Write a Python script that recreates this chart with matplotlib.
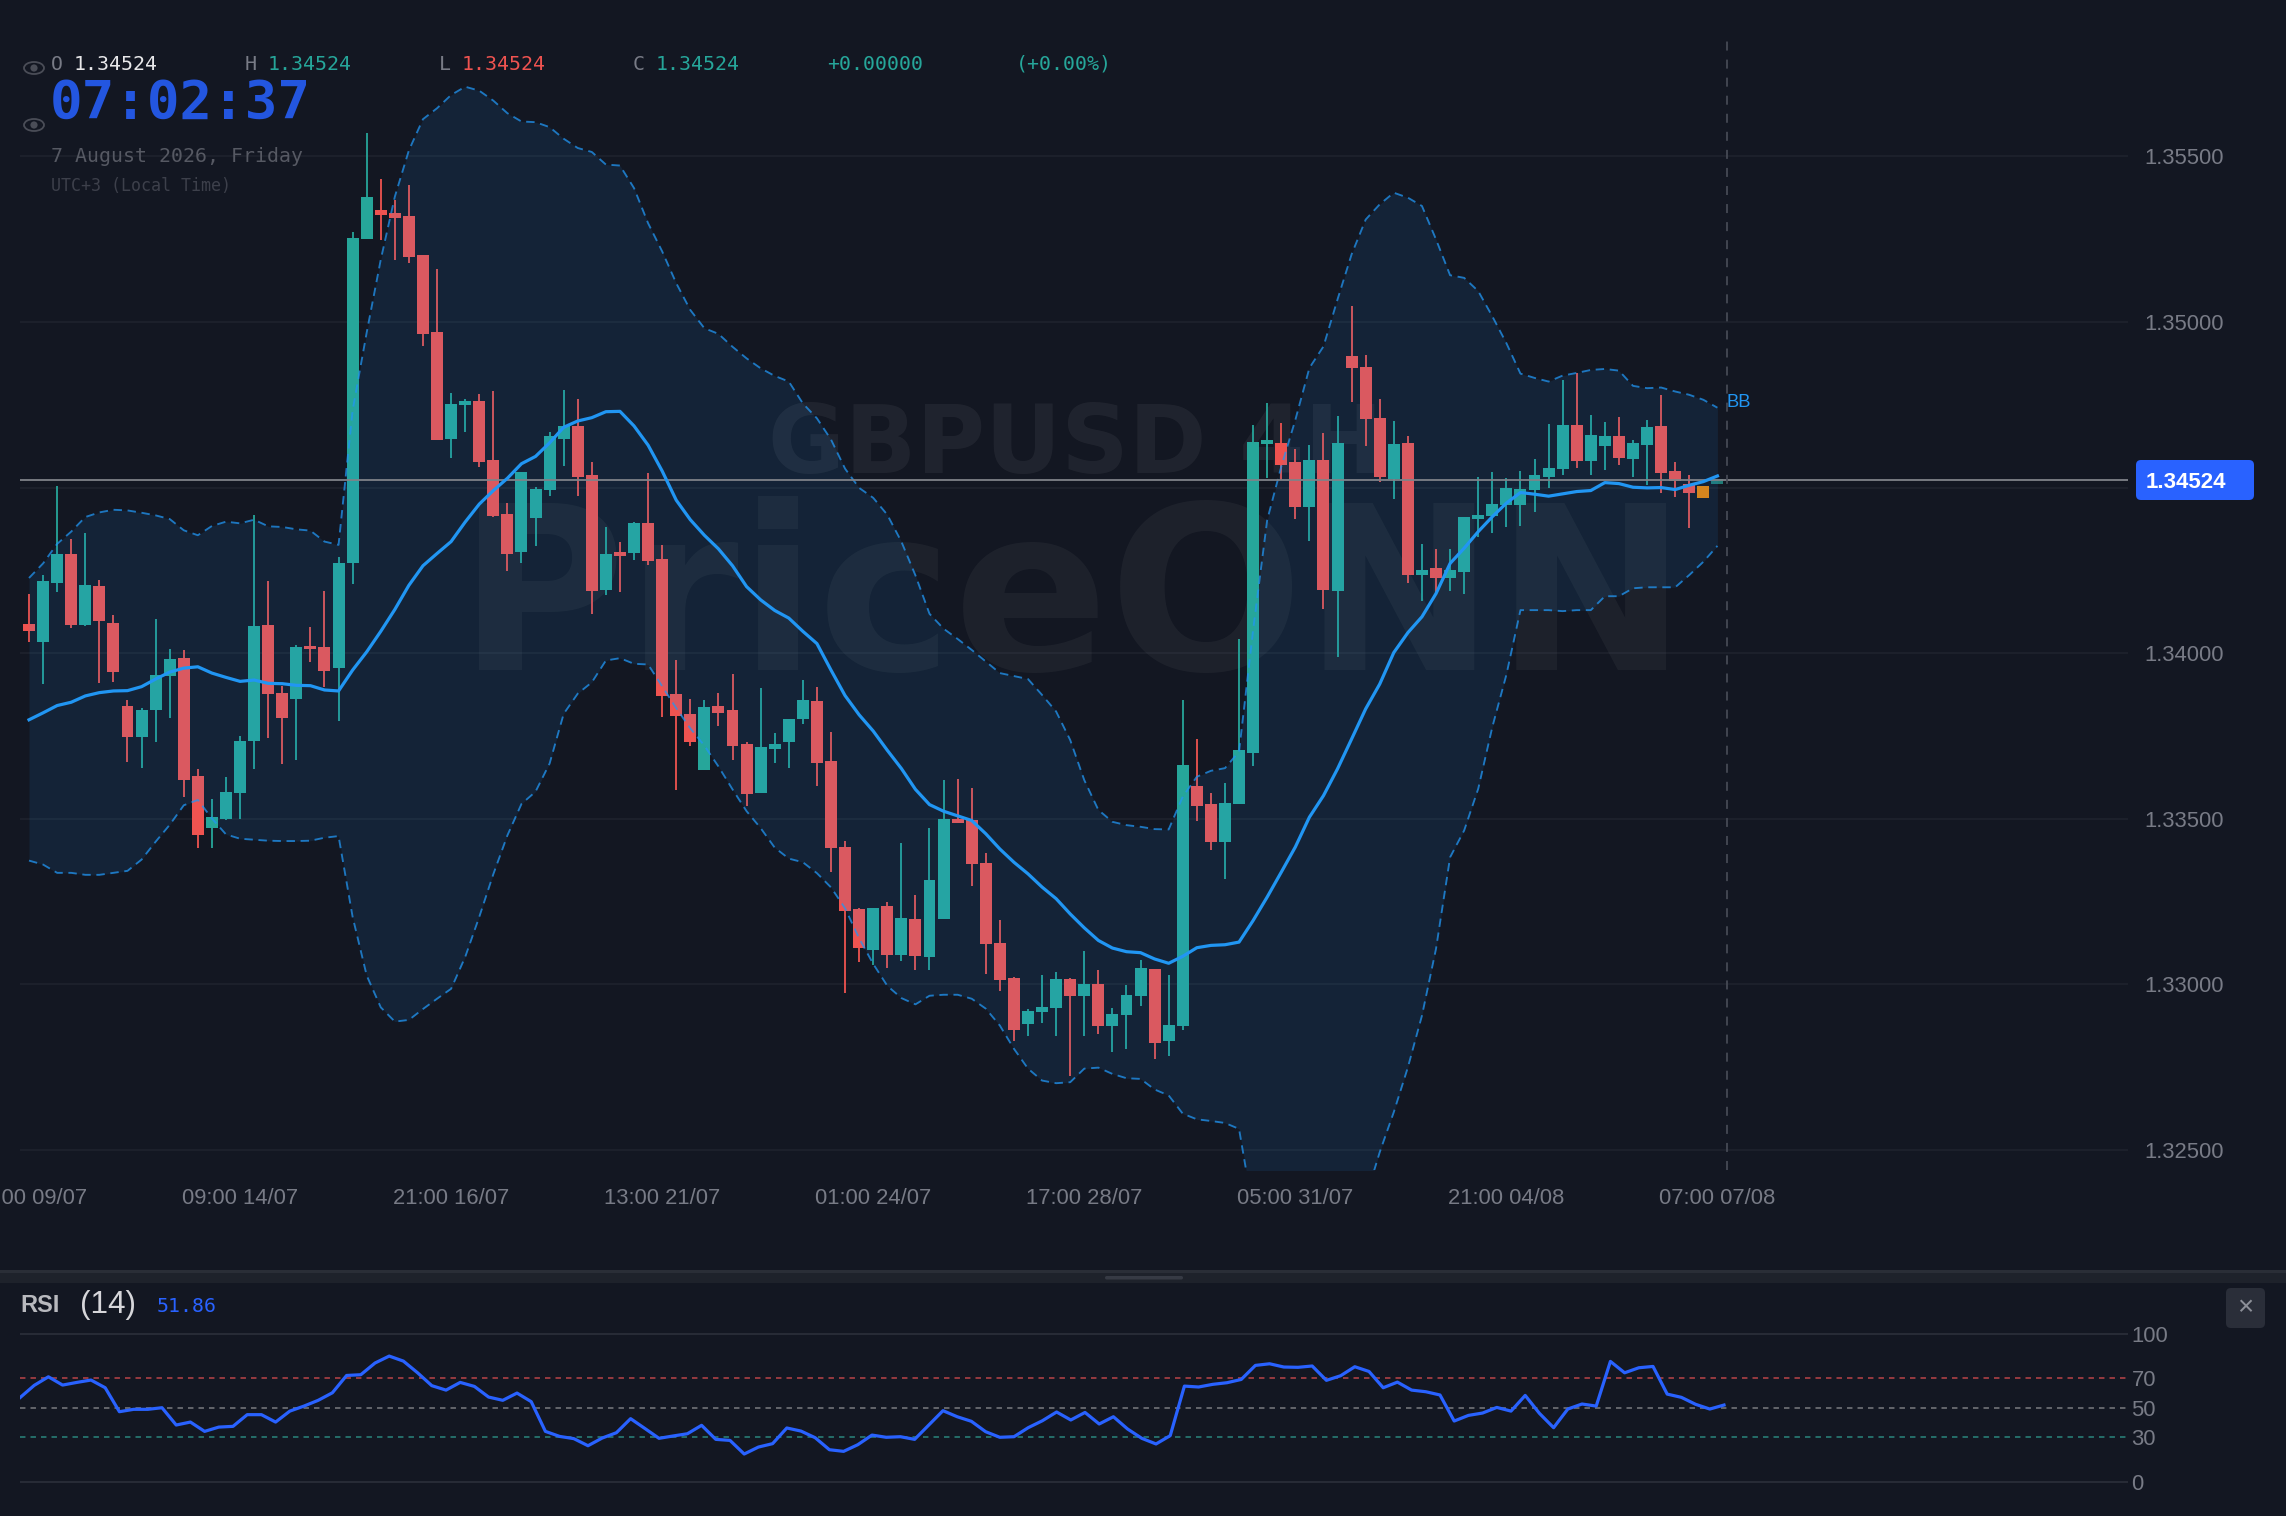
import numpy as np
import matplotlib
matplotlib.use("Agg")
import matplotlib.pyplot as plt
from matplotlib.patches import Ellipse, Circle, FancyBboxPatch, Rectangle

# Candles (4H GBPUSD)
opens = [
    1.34087,1.34035,1.34211,1.34298,1.34084,1.34202,1.34092,1.33842,1.33746,1.33828,
    1.33931,1.33985,1.33628,1.33472,1.33501,1.33578,1.33735,1.34085,1.33881,1.33861,
    1.34022,1.34019,1.33955,1.34273,1.35249,1.35339,1.35328,1.35320,1.35201,1.34969,
    1.34647,1.34749,1.34760,1.34584,1.34419,1.34306,1.34408,1.34493,1.34648,1.34686,
    1.34537,1.34192,1.34304,1.34302,1.34393,1.34284,1.33878,1.33815,1.33648,1.33840,
    1.33828,1.33726,1.33578,1.33710,1.33732,1.33801,1.33856,1.33674,1.33415,1.33227,
    1.33104,1.33236,1.33088,1.33199,1.33084,1.33198,1.33501,1.33496,1.33368,1.33126,
    1.33021,1.32881,1.32917,1.32928,1.33016,1.32965,1.33001,1.32876,1.32908,1.32966,
    1.33048,1.32829,1.32874,1.33598,1.33544,1.33430,1.33545,1.33698,1.34631,1.34634,
    1.34577,1.34441,1.34583,1.34189,1.34896,1.34865,1.34711,1.34525,1.34635,1.34237,
    1.34257,1.34226,1.34245,1.34405,1.34413,1.34446,1.34446,1.34494,1.34531,1.34555,
    1.34688,1.34581,1.34624,1.34656,1.34587,1.34627,1.34685,1.34550,1.34512,1.34504,
    1.34511,
]
highs = [
    1.34180,1.34235,1.34506,1.34346,1.34364,1.34220,1.34116,1.33859,1.33836,1.34103,
    1.34012,1.34010,1.33651,1.33560,1.33625,1.33751,1.34418,1.34218,1.33900,1.34025,
    1.34078,1.34188,1.34289,1.35270,1.35570,1.35430,1.35367,1.35412,1.35201,1.35161,
    1.34786,1.34768,1.34783,1.34792,1.34453,1.34548,1.34503,1.34667,1.34796,1.34768,
    1.34576,1.34381,1.34336,1.34396,1.34543,1.34326,1.33978,1.33861,1.33858,1.33881,
    1.33938,1.33732,1.33894,1.33758,1.33802,1.33919,1.33897,1.33761,1.33433,1.33232,
    1.33230,1.33249,1.33428,1.33271,1.33472,1.33616,1.33620,1.33592,1.33397,1.33196,
    1.33022,1.32927,1.33029,1.33039,1.33019,1.33100,1.33043,1.32930,1.32998,1.33075,
    1.33048,1.33029,1.33859,1.33740,1.33578,1.33608,1.34043,1.34690,1.34755,1.34694,
    1.34616,1.34627,1.34664,1.34715,1.35049,1.34899,1.34766,1.34701,1.34657,1.34330,
    1.34315,1.34315,1.34412,1.34532,1.34547,1.34530,1.34549,1.34585,1.34691,1.34826,
    1.34847,1.34720,1.34697,1.34713,1.34644,1.34704,1.34780,1.34578,1.34539,1.34504,
    1.34527,
]
lows = [
    1.34035,1.33908,1.34185,1.34075,1.34081,1.33911,1.33913,1.33673,1.33654,1.33732,
    1.33805,1.33566,1.33412,1.33411,1.33497,1.33501,1.33650,1.33743,1.33667,1.33679,
    1.33972,1.33897,1.33795,1.34210,1.35249,1.35246,1.35186,1.35177,1.34928,1.34644,
    1.34589,1.34667,1.34562,1.34411,1.34249,1.34273,1.34323,1.34474,1.34566,1.34474,
    1.34117,1.34177,1.34186,1.34280,1.34265,1.33806,1.33587,1.33721,1.33648,1.33780,
    1.33679,1.33540,1.33578,1.33670,1.33652,1.33787,1.33598,1.33339,1.32974,1.33069,
    1.33060,1.33050,1.33070,1.33043,1.33045,1.33197,1.33487,1.33296,1.33033,1.32979,
    1.32830,1.32844,1.32883,1.32843,1.32723,1.32843,1.32852,1.32796,1.32806,1.32935,
    1.32775,1.32784,1.32864,1.33492,1.33405,1.33319,1.33545,1.33660,1.34529,1.34522,
    1.34406,1.34340,1.34132,1.33989,1.34757,1.34624,1.34517,1.34466,1.34211,1.34158,
    1.34181,1.34188,1.34179,1.34350,1.34363,1.34381,1.34383,1.34426,1.34499,1.34537,
    1.34560,1.34537,1.34553,1.34567,1.34532,1.34507,1.34484,1.34472,1.34378,1.34469,
    1.34511,
]
closes = [
    1.34066,1.34217,1.34298,1.34084,1.34205,1.34097,1.33944,1.33748,1.33830,1.33935,
    1.33982,1.33617,1.33452,1.33507,1.33582,1.33736,1.34082,1.33877,1.33805,1.34019,
    1.34012,1.33947,1.34273,1.35254,1.35378,1.35323,1.35314,1.35195,1.34963,1.34645,
    1.34752,1.34761,1.34578,1.34415,1.34299,1.34548,1.34497,1.34655,1.34686,1.34532,
    1.34189,1.34298,1.34293,1.34392,1.34279,1.33871,1.33809,1.33733,1.33837,1.33821,
    1.33721,1.33576,1.33717,1.33727,1.33801,1.33858,1.33669,1.33412,1.33221,1.33110,
    1.33230,1.33088,1.33201,1.33085,1.33315,1.33500,1.33488,1.33365,1.33122,1.33015,
    1.32864,1.32920,1.32931,1.33017,1.32965,1.33000,1.32874,1.32911,1.32969,1.33049,
    1.32823,1.32878,1.33664,1.33538,1.33430,1.33548,1.33707,1.34637,1.34644,1.34569,
    1.34441,1.34584,1.34191,1.34636,1.34860,1.34707,1.34531,1.34631,1.34237,1.34250,
    1.34228,1.34250,1.34412,1.34418,1.34451,1.34500,1.34497,1.34538,1.34558,1.34690,
    1.34581,1.34659,1.34657,1.34589,1.34634,1.34683,1.34545,1.34521,1.34484,1.34469,
    1.34527,
]

# Bollinger bands
bb_upper = [
    1.34227,1.34271,1.34330,1.34367,1.34411,1.34425,1.34433,1.34431,1.34424,1.34416,
    1.34405,1.34371,1.34356,1.34384,1.34397,1.34392,1.34403,1.34383,1.34381,1.34374,
    1.34370,1.34337,1.34327,1.34733,1.34968,1.35188,1.35378,1.35518,1.35612,1.35645,
    1.35685,1.35710,1.35698,1.35668,1.35630,1.35605,1.35603,1.35588,1.35553,1.35525,
    1.35513,1.35475,1.35472,1.35404,1.35298,1.35213,1.35117,1.35036,1.34981,1.34964,
    1.34925,1.34890,1.34860,1.34837,1.34820,1.34754,1.34709,1.34645,1.34557,1.34499,
    1.34469,1.34418,1.34337,1.34235,1.34119,1.34074,1.34043,1.34010,1.33975,1.33940,
    1.33931,1.33922,1.33874,1.33824,1.33738,1.33617,1.33527,1.33491,1.33481,1.33476,
    1.33469,1.33468,1.33567,1.33627,1.33645,1.33653,1.33703,1.34070,1.34402,1.34563,
    1.34704,1.34861,1.34926,1.35068,1.35204,1.35309,1.35355,1.35390,1.35375,1.35350,
    1.35249,1.35141,1.35133,1.35093,1.35017,1.34936,1.34844,1.34831,1.34820,1.34838,
    1.34846,1.34855,1.34858,1.34853,1.34807,1.34800,1.34802,1.34790,1.34780,1.34765,
    1.34741,
]
bb_middle = [
    1.33799,1.33820,1.33842,1.33852,1.33871,1.33881,1.33886,1.33887,1.33899,1.33922,
    1.33943,1.33955,1.33959,1.33940,1.33927,1.33915,1.33919,1.33909,1.33908,1.33903,
    1.33902,1.33889,1.33886,1.33949,1.34004,1.34066,1.34132,1.34205,1.34264,1.34301,
    1.34337,1.34396,1.34450,1.34491,1.34528,1.34572,1.34594,1.34635,1.34682,1.34701,
    1.34711,1.34729,1.34730,1.34686,1.34628,1.34550,1.34462,1.34403,1.34356,1.34315,
    1.34264,1.34201,1.34161,1.34129,1.34106,1.34066,1.34029,1.33949,1.33872,1.33814,
    1.33765,1.33707,1.33652,1.33589,1.33543,1.33523,1.33509,1.33495,1.33455,1.33409,
    1.33369,1.33334,1.33294,1.33259,1.33213,1.33171,1.33133,1.33110,1.33099,1.33096,
    1.33077,1.33064,1.33085,1.33111,1.33118,1.33120,1.33128,1.33193,1.33264,1.33339,
    1.33415,1.33505,1.33570,1.33651,1.33741,1.33832,1.33907,1.34002,1.34062,1.34110,
    1.34180,1.34271,1.34317,1.34367,1.34412,1.34453,1.34485,1.34480,1.34474,1.34481,
    1.34488,1.34491,1.34515,1.34512,1.34501,1.34499,1.34500,1.34494,1.34507,1.34518,
    1.34535,
]
bb_lower = [
    1.33374,1.33362,1.33337,1.33337,1.33331,1.33331,1.33337,1.33343,1.33377,1.33431,
    1.33482,1.33541,1.33557,1.33501,1.33453,1.33440,1.33437,1.33434,1.33433,1.33433,
    1.33434,1.33443,1.33448,1.33204,1.33027,1.32931,1.32888,1.32893,1.32926,1.32957,
    1.32987,1.33083,1.33204,1.33333,1.33450,1.33545,1.33582,1.33667,1.33817,1.33878,
    1.33912,1.33978,1.33985,1.33968,1.33966,1.33900,1.33834,1.33773,1.33721,1.33658,
    1.33589,1.33523,1.33472,1.33413,1.33380,1.33369,1.33336,1.33293,1.33230,1.33139,
    1.33062,1.32996,1.32959,1.32940,1.32966,1.32969,1.32969,1.32957,1.32927,1.32876,
    1.32806,1.32746,1.32710,1.32702,1.32705,1.32746,1.32749,1.32730,1.32717,1.32715,
    1.32683,1.32665,1.32610,1.32593,1.32588,1.32582,1.32564,1.32316,1.32126,1.32115,
    1.32126,1.32149,1.32214,1.32234,1.32278,1.32355,1.32494,1.32615,1.32750,1.32906,
    1.33108,1.33384,1.33465,1.33591,1.33777,1.33935,1.34130,1.34130,1.34130,1.34127,
    1.34130,1.34130,1.34172,1.34172,1.34196,1.34199,1.34199,1.34199,1.34236,1.34276,
    1.34324,
]

# RSI (14)
rsi = [
    56.8,65.1,70.9,65.3,67.1,68.7,63.5,47.3,48.9,48.9,
    50.0,38.3,40.3,34.0,36.9,37.4,45.3,45.3,40.3,47.7,
    51.1,55.0,60.1,71.8,72.3,80.2,84.9,81.5,73.6,64.9,
    61.9,67.1,64.4,57.2,55.0,59.9,54.1,34.0,30.6,29.1,
    24.3,29.5,33.1,42.6,36.0,29.3,30.9,32.4,38.1,28.6,
    27.9,18.7,23.4,25.7,36.3,34.2,29.7,21.6,20.5,25.0,
    31.5,30.0,30.4,28.6,38.3,48.0,43.9,40.8,33.8,30.0,
    30.4,36.5,41.2,47.1,41.7,46.8,39.0,43.9,35.6,29.3,
    25.5,31.1,64.6,64.0,65.8,66.9,69.1,78.6,79.7,77.5,
    77.3,78.2,68.5,71.6,77.7,74.5,63.5,67.3,61.9,60.8,
    58.6,41.0,44.8,46.4,50.2,47.7,58.3,46.2,36.5,49.1,
    52.5,51.1,81.3,73.6,77.0,77.9,59.2,57.0,52.3,49.1,
    51.8,
]

price_ticks = [1.355, 1.35, 1.345, 1.34, 1.335, 1.33, 1.325]
price_labels = ["1.35500", "1.35000", "1.34500", "1.34000", "1.33500", "1.33000", "1.32500"]
time_ticks = [0, 15, 30, 45, 60, 75, 90, 105, 120]
time_labels = ["21:00 09/07", "09:00 14/07", "21:00 16/07", "13:00 21/07", "01:00 24/07",
               "17:00 28/07", "05:00 31/07", "21:00 04/08", "07:00 07/08"]
rsi_ticks = [100, 70, 50, 30, 0]
last_price = 1.34524

W, H = 2286, 1516
BG = "#131722"
GREEN = "#26a69a"
RED = "#ef5350"
BLUE = "#2196f3"
RSI_BLUE = "#2962ff"
TICK = "#787b86"
SANS = "Liberation Sans"
MONO = "DejaVu Sans Mono"

fig = plt.figure(figsize=(W / 100, H / 100), dpi=100, facecolor=BG)

# pixel-space layer for the interface parts
ui = fig.add_axes([0, 0, 1, 1], zorder=5)
ui.set_xlim(0, W)
ui.set_ylim(H, 0)
ui.axis("off")
ui.patch.set_alpha(0)

ax = fig.add_axes([20 / W, 1 - 1170 / H, 2108 / W, 1129 / H], zorder=1)
ax.set_facecolor(BG)
ax.set_xlim(-0.64, 149.18)
ax.set_ylim(1.32440, 1.35848)
for s in ax.spines.values():
    s.set_visible(False)
ax.yaxis.tick_right()
ax.set_yticks(price_ticks, price_labels)
ax.set_xticks(time_ticks, time_labels)
ax.tick_params(axis="y", length=0, pad=11.5, labelcolor=TICK, labelsize=15.8)
ax.tick_params(axis="x", length=0, pad=13, labelcolor=TICK, labelsize=15.8)
for lab in ax.get_xticklabels() + ax.get_yticklabels():
    lab.set_fontfamily(SANS)
ax.grid(axis="y", color="#1f242e", lw=1.1)
ax.set_axisbelow(True)

# watermarks
ax.text(458, 670, "PriceONN", transform=ui.transData, family="DejaVu Sans", weight="bold",
        fontsize=165, color="white", alpha=0.045, va="baseline", ha="left", zorder=1)
ax.text(768, 473, "GBPUSD 4H", transform=ui.transData, family="DejaVu Sans", weight="bold",
        fontsize=67.5, color="white", alpha=0.055, va="baseline", ha="left", zorder=1)

# candles
x = np.arange(len(closes))
o, h, l, c = map(np.array, (opens, highs, lows, closes))
colors = [GREEN if c[i] >= o[i] else RED for i in x]
colors[119] = "#ea8406"
ax.vlines(x[:119], l[:119], h[:119], colors=colors[:119], lw=1.3, zorder=2)
ax.bar(x[:120], np.abs(c - o)[:120], bottom=np.minimum(o, c)[:120], width=0.85,
       color=colors[:120], linewidth=0, zorder=2)
ax.bar(x[120], abs(c[120] - o[120]), bottom=min(o[120], c[120]), width=0.85,
       color=GREEN, alpha=0.7, linewidth=0, zorder=2)

# band over the candles
ax.fill_between(x, bb_lower, bb_upper, color=BLUE, alpha=0.1, linewidth=0, zorder=3)
ax.plot(x, bb_upper, color=BLUE, alpha=0.75, lw=1.35, dashes=(4.5, 3), zorder=4)
ax.plot(x, bb_lower, color=BLUE, alpha=0.75, lw=1.35, dashes=(4.5, 3), zorder=4)
ax.plot(x, bb_middle, color=BLUE, lw=2.3, solid_joinstyle="round", zorder=5)

ax.axhline(last_price, color="#7f8288", lw=1.3, zorder=4)
ax.axvline(120.65, color="#454954", lw=1.3, dashes=(5, 5), zorder=4)

# RSI pane
rx = fig.add_axes([20 / W, 0, 2108 / W, 233 / H], zorder=1)
rx.patch.set_alpha(0)
rx.set_xlim(0, 148.45)
rx.set_ylim(-23.2, 134.3)
for s in rx.spines.values():
    s.set_visible(False)
rx.yaxis.tick_right()
rx.set_xticks([])
rx.set_yticks(rsi_ticks, [str(v) for v in rsi_ticks])
rx.tick_params(axis="y", length=0, pad=2.5, labelcolor=TICK, labelsize=15.8)
for lab in rx.get_yticklabels():
    lab.set_fontfamily(SANS)
rx.axhline(100, color="#2a2e39", lw=1.3)
rx.axhline(0, color="#2a2e39", lw=1.3)
rx.axhline(70, color="#963a40", lw=1.4, dashes=(2.8, 2.6))
rx.axhline(50, color="#64666c", lw=1.4, dashes=(2.8, 2.6))
rx.axhline(30, color="#256e69", lw=1.4, dashes=(2.8, 2.6))
rx.plot(np.arange(len(rsi)), rsi, color=RSI_BLUE, lw=2.3)

# pane divider
ui.add_patch(Rectangle((0, 1270), W, 2.5, color="#2a2e37", lw=0))
ui.add_patch(Rectangle((0, 1272.5), W, 10.5, color="#1e222b", lw=0))
ui.add_patch(FancyBboxPatch((1105, 1276), 78, 3.5, boxstyle="round,pad=0,rounding_size=1.7",
                            color="#363a44", lw=0))

# header text
for txt, px, col in [
    ("O", 51, "#787b86"), ("1.34524", 74, "#e8e8ea"),
    ("H", 245, "#787b86"), ("1.34524", 268, GREEN),
    ("L", 439, "#787b86"), ("1.34524", 462, RED),
    ("C", 633, "#787b86"), ("1.34524", 656, GREEN),
    ("+0.00000", 827, GREEN), ("(+0.00%)", 1016, GREEN),
]:
    ui.text(px, 64.5, txt, family=MONO, fontsize=14.3, color=col, va="center", ha="left")
ui.text(50, 104, "07:02:37", family=MONO, weight="bold", fontsize=39, color="#2356e0",
        va="center", ha="left")
ui.text(51, 157, "7 August 2026, Friday", family=MONO, fontsize=14.3, color="#565963",
        va="center", ha="left")
ui.text(51, 186, "UTC+3 (Local Time)", family=MONO, fontsize=12, color="#3d404b",
        va="center", ha="left")

# eye icons
for ey in (68, 125):
    ui.add_patch(Ellipse((34, ey), 20, 12, fill=False, ec="#4a4d57", lw=1.3))
    ui.add_patch(Circle((34, ey), 3.6, color="#4a4d57", lw=0))

ui.text(1727, 402.5, "BB", family=SANS, fontsize=13.2, color=BLUE, va="center", ha="left")

# last price tag
ui.add_patch(FancyBboxPatch((2136, 460), 118, 40, boxstyle="round,pad=0,rounding_size=5",
                            color=RSI_BLUE, lw=0))
ui.text(2146, 482, "1.34524", family=SANS, weight="bold", fontsize=16, color="white",
        va="center", ha="left")

# RSI legend
ui.text(20, 1305, "RSI", family=SANS, weight="bold", fontsize=17, color="#b8b9be", va="center", ha="left")
ui.text(80, 1305, "(14)", family=SANS, fontsize=22.7, color="#d6d6da", va="center", ha="left")
ui.text(157, 1306, "51.86", family=MONO, fontsize=14.3, color=RSI_BLUE, va="center", ha="left")

# close button
ui.add_patch(FancyBboxPatch((2226, 1288), 39, 40, boxstyle="round,pad=0,rounding_size=5",
                            color="#2a2e39", lw=0))
ui.text(2245.5, 1308, "\u00d7", family=SANS, fontsize=20, color="#8c8f98", va="center", ha="center")

fig.savefig("out.png", dpi=100, facecolor=BG)
